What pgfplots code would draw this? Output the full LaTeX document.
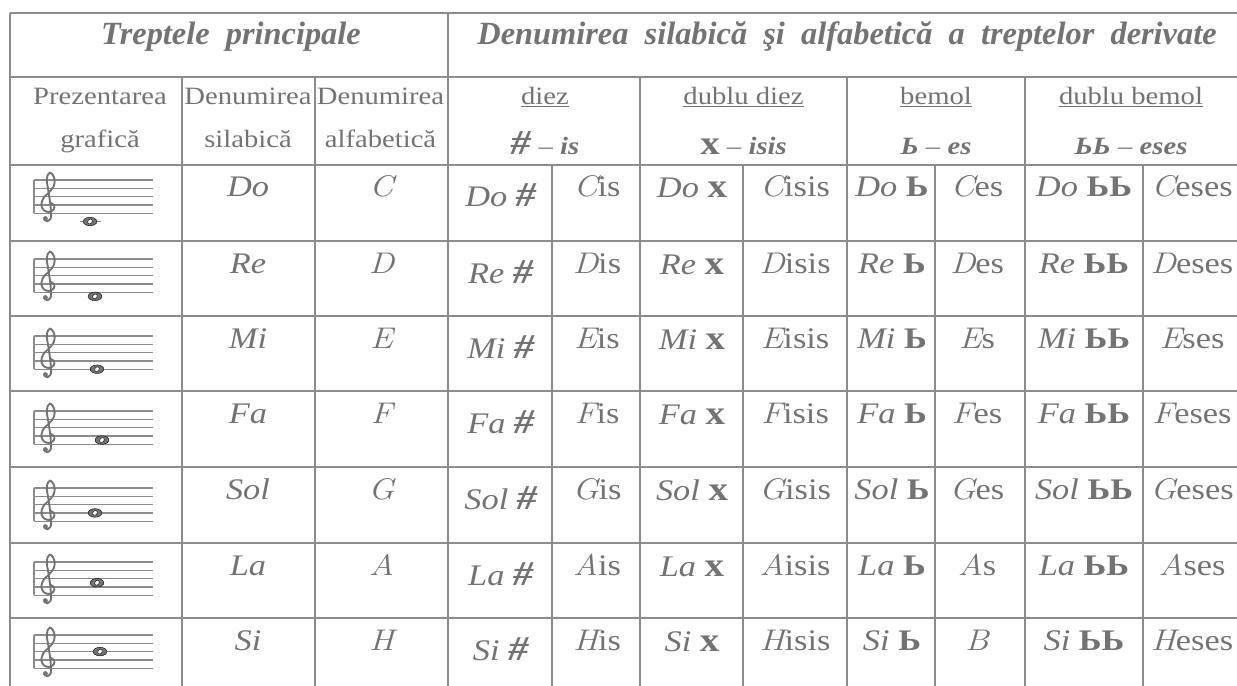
\documentclass[border=0pt]{standalone}
\usepackage{fontspec}
\setmainfont{Liberation Serif}
\usepackage{graphicx}
\usepackage{pgfplots}
\usepackage{pgfplotstable}
\pgfplotsset{compat=1.18}

\definecolor{ink}{RGB}{115,115,115}
\definecolor{rule}{RGB}{140,140,140}

% 1 px of the reference = 1 bp
\newcommand\sx[1]{\scalebox{1.15}[1]{#1}}
\newcommand\lmi[1]{{\fontfamily{lmr}\selectfont\itshape #1}}
\newcommand\al[2]{\lmi{#1}#2}
\newcommand\hdfont{\fontsize{32.5}{38}\selectfont\bfseries\itshape}
\newcommand\subfont{\fontsize{25}{30}\selectfont}
\newcommand\cellfont{\fontsize{30}{36}\selectfont}
\newcommand\diez{{\fontsize{35}{40}\selectfont\textbf{\textit{\#}}}}
\newcommand\ddiez{{\fontsize{34}{40}\selectfont\textbf{x}}}
\newcommand\bemol{\textbf{Ь}}

\tikzset{cell/.style={anchor=base, text=ink, inner sep=0pt}}

% table grid: start point and offset of every rule
\pgfplotstableread{
x y u v
10 13 1227 0
10 77 1227 0
10 165 1227 0
10 241 1227 0
10 316 1227 0
10 391 1227 0
10 467 1227 0
10 543 1227 0
10 618 1227 0
10 13 0 673
448 13 0 673
182 77 0 609
315 77 0 609
640 77 0 609
847 77 0 609
1025 77 0 609
552 165 0 521
743 165 0 521
935 165 0 521
1143 165 0 521
}\grid

% five staff lines and the left bar, relative to the top line
\pgfplotstableread{
x y u v
34 0 119 0
34 8.3 119 0
34 16.6 119 0
34 24.9 119 0
34 33.2 119 0
34 0 0 33.2
}\staff

% treble clef stroke, relative to (49, top line)
\pgfplotstableread{
x y
1.5 22.8
5.2 25.3
4.6 29.5
0 32.0
-5.2 30.3
-7.7 24.9
-5.7 18.3
0 12.4
4.6 6.6
5.7 0
3.6 -5.4
1.0 -7.3
-1.5 -4.4
-2.1 1.7
-0.5 11.6
1.2 23.2
2.1 34.4
1.5 38.6
-1.5 41.2
-4.4 40.0
}\clef

\pgfplotstableread{
x y
-3.6 38.6
}\clefdot

% whole notes: Do Re Mi Fa Sol La Si
\pgfplotstableread{
x y
90 221.5
95 296.35
97 369.2
102 440.05
95 512.9
97 582.75
100 651.6
}\notes

\newcommand\datarow[7]{%
  \node[cell] at (axis cs:248,#1+32) {\cellfont\sx{\textit{#2}}};
  \node[cell] at (axis cs:381.5,#1+32) {\cellfont\sx{\lmi{#3}}};
  \node[cell] at (axis cs:501,#1+42) {\cellfont\sx{\textit{#2} \diez}};
  \node[cell] at (axis cs:597,#1+32) {\cellfont\sx{#4}};
  \node[cell] at (axis cs:692,#1+33) {\cellfont\sx{\textit{#2} \ddiez}};
  \node[cell] at (axis cs:795,#1+32) {\cellfont\sx{#5}};
  \node[cell] at (axis cs:892,#1+32) {\cellfont\sx{\textit{#2} \bemol}};
  \node[cell] at (axis cs:977,#1+32) {\cellfont\sx{#6}};
  \node[cell] at (axis cs:1084,#1+32) {\cellfont\sx{\textit{#2} \bemol\bemol}};
  \node[cell] at (axis cs:1192,#1+32) {\cellfont\sx{#7}};
}

\begin{document}
\begin{tikzpicture}
\begin{axis}[
    name=ax,
    scale only axis,
    width=1237bp, height=686bp,
    xmin=0, xmax=1237,
    ymin=0, ymax=686,
    y dir=reverse,
    hide axis,
    clip=false,
]
\addplot[rule, line width=1.5bp, quiver={u=\thisrow{u}, v=\thisrow{v}}] table {\grid};

% staves
\pgfplotsinvokeforeach{180,259,336,411,488,562,635}{
  \addplot[rule, line width=1.2bp, quiver={u=\thisrow{u}, v=\thisrow{v}}]
    table[x=x, y expr=\thisrow{y}+#1] {\staff};
  \addplot[ink, line width=1.9bp, smooth]
    table[x expr=\thisrow{x}+49, y expr=\thisrow{y}+#1] {\clef};
  \addplot[ink, only marks, mark=*, mark size=2.2]
    table[x expr=\thisrow{x}+49, y expr=\thisrow{y}+#1] {\clefdot};
}
% ledger line of middle C
\addplot[rule, line width=1.4bp] coordinates {(80,221.5) (101,221.5)};
% note heads: filled oval, then the tilted hole
\addplot[only marks, mark=*, mark size=4.3,
    mark options={xscale=1.6, fill=ink, draw=none}] table {\notes};
\addplot[only marks, mark=*, mark size=2.1,
    mark options={rotate=50, xscale=1.25, fill=white, draw=none}] table {\notes};

% header
\node[cell] at (axis cs:231,45) {\hdfont Treptele\ \ principale};
\node[cell] at (axis cs:847,45)
  {\hdfont Denumirea\ \ silabică\ \ şi\ \ alfabetică\ \ a\ \ treptelor\ \ derivate};

\node[cell] at (axis cs:100,105) {\subfont\sx{Prezentarea}};
\node[cell] at (axis cs:100,148) {\subfont\sx{grafică}};
\node[cell] at (axis cs:248,105) {\subfont\sx{Denumirea}};
\node[cell] at (axis cs:248,148) {\subfont\sx{silabică}};
\node[cell] at (axis cs:380.5,105) {\subfont\sx{Denumirea}};
\node[cell] at (axis cs:380.5,148) {\subfont\sx{alfabetică}};

\node[cell] at (axis cs:545,105) {\subfont\sx{\underline{diez}}};
\node[cell] at (axis cs:545,155) {\subfont\sx{\diez{} – \textbf{\textit{is}}}};
\node[cell] at (axis cs:743.5,105) {\subfont\sx{\underline{dublu diez}}};
\node[cell] at (axis cs:743.5,155) {\subfont\sx{\ddiez{} – \textbf{\textit{isis}}}};
\node[cell] at (axis cs:936,105) {\subfont\sx{\underline{bemol}}};
\node[cell] at (axis cs:936,155) {\subfont\sx{\textbf{\textit{Ь}} – \textbf{\textit{es}}}};
\node[cell] at (axis cs:1131,105) {\subfont\sx{\underline{dublu bemol}}};
\node[cell] at (axis cs:1131,155) {\subfont\sx{\textbf{\textit{ЬЬ}} – \textbf{\textit{eses}}}};

% body
\datarow{165}{Do}{C}{\al{C}{is}}{\al{C}{isis}}{\al{C}{es}}{\al{C}{eses}}
\datarow{241}{Re}{D}{\al{D}{is}}{\al{D}{isis}}{\al{D}{es}}{\al{D}{eses}}
\datarow{316}{Mi}{E}{\al{E}{is}}{\al{E}{isis}}{\al{E}{s}}{\al{E}{ses}}
\datarow{391}{Fa}{F}{\al{F}{is}}{\al{F}{isis}}{\al{F}{es}}{\al{F}{eses}}
\datarow{467}{Sol}{G}{\al{G}{is}}{\al{G}{isis}}{\al{G}{es}}{\al{G}{eses}}
\datarow{543}{La}{A}{\al{A}{is}}{\al{A}{isis}}{\al{A}{s}}{\al{A}{ses}}
\datarow{618}{Si}{H}{\al{H}{is}}{\al{H}{isis}}{\lmi{B}}{\al{H}{eses}}
\end{axis}
\pgfresetboundingbox
\path[use as bounding box] (ax.south west) rectangle (ax.north east);
\end{tikzpicture}
\end{document}
